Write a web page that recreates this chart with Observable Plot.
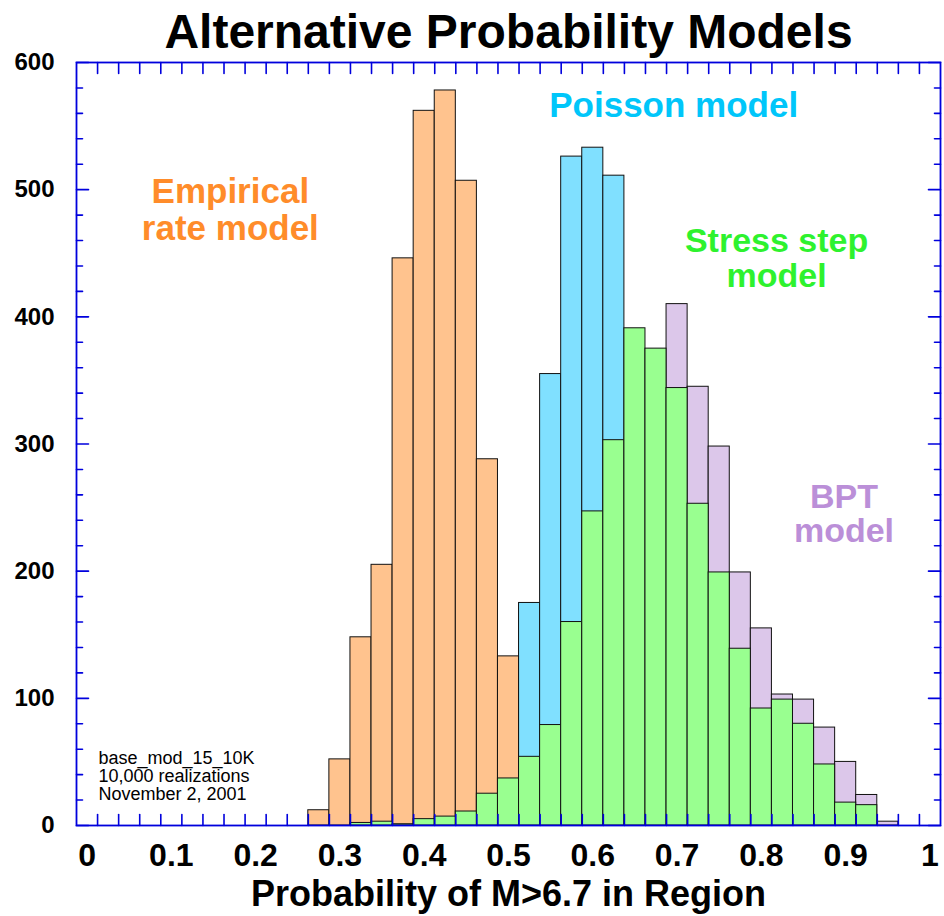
<!DOCTYPE html>
<html>
<head>
<meta charset="utf-8">
<script src="https://cdn.jsdelivr.net/npm/d3@7"></script>
<script src="https://cdn.jsdelivr.net/npm/@observablehq/plot@0.6"></script>
<style>
  html, body { margin: 0; padding: 0; background: #fff; }
  #chart svg { display: block; }
</style>
</head>
<body>
<div id="chart"></div>
<script>
// Histogram bins are 0.025 wide, centred on the listed probabilities.
const binWidth = 0.025;

// Empirical rate model
const empiricalX = [0.275, 0.3, 0.325, 0.35, 0.375, 0.4, 0.425, 0.45, 0.475, 0.5];
const empiricalN = [12, 52, 148, 205, 446, 562, 578, 507, 288, 133];

// Poisson model
const poissonX = [0.525, 0.55, 0.575, 0.6, 0.625];
const poissonN = [175, 355, 526, 533, 511];

// Stress step model
const stressX = [0.325, 0.35, 0.375, 0.4, 0.425, 0.45, 0.475, 0.5, 0.525, 0.55, 0.575, 0.6, 0.625,
                 0.65, 0.675, 0.7, 0.725, 0.75, 0.775, 0.8, 0.825, 0.85, 0.875, 0.9, 0.925];
const stressN = [2, 3, 1, 5, 7, 11, 25, 37, 54, 79, 160, 247, 303,
                 391, 375, 344, 253, 199, 139, 92, 99, 80, 48, 18, 16];

// BPT model
const bptX = [0.375, 0.7, 0.725, 0.75, 0.775, 0.8, 0.825, 0.85, 0.875, 0.9, 0.925, 0.95];
const bptN = [3, 410, 345, 298, 199, 155, 103, 99, 77, 50, 24, 3];

// Axis ticks and labels
const xLabelValues = [0, 0.1, 0.2, 0.3, 0.4, 0.5, 0.6, 0.7, 0.8, 0.9, 1];
const xLabelText = ["0", "0.1", "0.2", "0.3", "0.4", "0.5", "0.6", "0.7", "0.8", "0.9", "1"];
const xMinorTicks = d3.range(40).map(k => 0.0125 + k * binWidth);
const yMajorTicks = [0, 100, 200, 300, 400, 500, 600];
const yMinorTicks = d3.range(0, 601, 20).filter(v => v % 100 !== 0);

const titleText = "Alternative Probability Models";
const xTitleText = "Probability of M>6.7 in Region";
const noteText = "base_mod_15_10K\n10,000 realizations\nNovember 2, 2001";

const series = (xs, ns) => xs.map((x, i) => ({x, n: ns[i]}));
const empirical = series(empiricalX, empiricalN);
const poisson = series(poissonX, poissonN);
const stress = series(stressX, stressN);
const bpt = series(bptX, bptN);

const axisBlue = "#0000dd";
const font = "'Liberation Sans', Arial, Helvetica, sans-serif";

// A plain line for tick marks, drawn from the anchor point along the vector.
const tickLine = {draw(context, l) { context.moveTo(0, 0); context.lineTo(0, -l); }};

const bars = (data, fill) => Plot.rectY(data, {
  x1: d => d.x - binWidth / 2,
  x2: d => d.x + binWidth / 2,
  y: "n",
  fill,
  stroke: "#111",
  strokeWidth: 1
});

const ticks = (data, channel, frameAnchor, rotate, length) => Plot.vector(data, {
  [channel]: d => d,
  frameAnchor,
  rotate,
  length,
  anchor: "start",
  shape: tickLine,
  stroke: axisBlue,
  strokeWidth: 1.6
});

const chart = Plot.plot({
  width: 944,
  height: 916,
  marginLeft: 76,
  marginRight: 4,
  marginTop: 62,
  marginBottom: 91,
  style: {fontFamily: font, background: "#fff", color: "#000"},
  x: {domain: [-0.0125, 1.0125], axis: null},
  y: {domain: [0, 600], axis: null},
  marks: [
    bars(bpt, "#dcc7ea"),
    bars(poisson, "#80e0ff"),
    bars(empirical, "#ffc38e"),
    bars(stress, "#99ff90"),

    // minor and major ticks, pointing inward on all four sides
    ticks(xMinorTicks, "x", "bottom", 0, 11),
    ticks(xMinorTicks, "x", "top", 180, 11),
    ticks(yMajorTicks, "y", "left", 90, 12),
    ticks(yMinorTicks, "y", "left", 90, 6),
    ticks(yMajorTicks, "y", "right", 270, 12),
    ticks(yMinorTicks, "y", "right", 270, 6),
    Plot.frame({stroke: axisBlue, strokeWidth: 1.8}),

    // tick labels
    Plot.text(xLabelValues, {
      x: d => d, text: (d, i) => xLabelText[i], frameAnchor: "bottom",
      dy: 40, fontSize: 32, fontWeight: "bold", fill: "#000"
    }),
    Plot.text(yMajorTicks, {
      y: d => d, text: d => String(d), frameAnchor: "left", textAnchor: "end",
      dx: -22, fontSize: 24, fontWeight: "bold", fill: "#000"
    }),

    // axis title and chart title
    Plot.text([xTitleText], {
      text: d => d, frameAnchor: "bottom", dy: 80, fontSize: 36, fontWeight: "bold", fill: "#000"
    }),
    Plot.text([titleText], {
      text: d => d, frameAnchor: "top", dy: -49, fontSize: 48, fontWeight: "bold", fill: "#000"
    }),

    // model labels
    Plot.text(["Empirical\nrate model"], {
      x: 0.170, y: 484, text: d => d, fontSize: 35, fontWeight: "bold", fill: "#ff8c2a", lineHeight: 1.05
    }),
    Plot.text(["Poisson model"], {
      x: 0.696, y: 566, text: d => d, fontSize: 35, fontWeight: "bold", fill: "#00c6fa"
    }),
    Plot.text(["Stress step\nmodel"], {
      x: 0.818, y: 446, text: d => d, fontSize: 34, fontWeight: "bold", fill: "#2ef22e", lineHeight: 1.02
    }),
    Plot.text(["BPT\nmodel"], {
      x: 0.898, y: 245, text: d => d, fontSize: 34, fontWeight: "bold", fill: "#bb8fd8", lineHeight: 1.02
    }),

    // run note
    Plot.text([noteText], {
      text: d => d, frameAnchor: "bottom-left", textAnchor: "start", lineAnchor: "middle",
      dx: 22, dy: -49, fontSize: 18, lineHeight: 1.0, fill: "#000"
    })
  ]
});

document.getElementById("chart").appendChild(chart);
</script>
</body>
</html>
